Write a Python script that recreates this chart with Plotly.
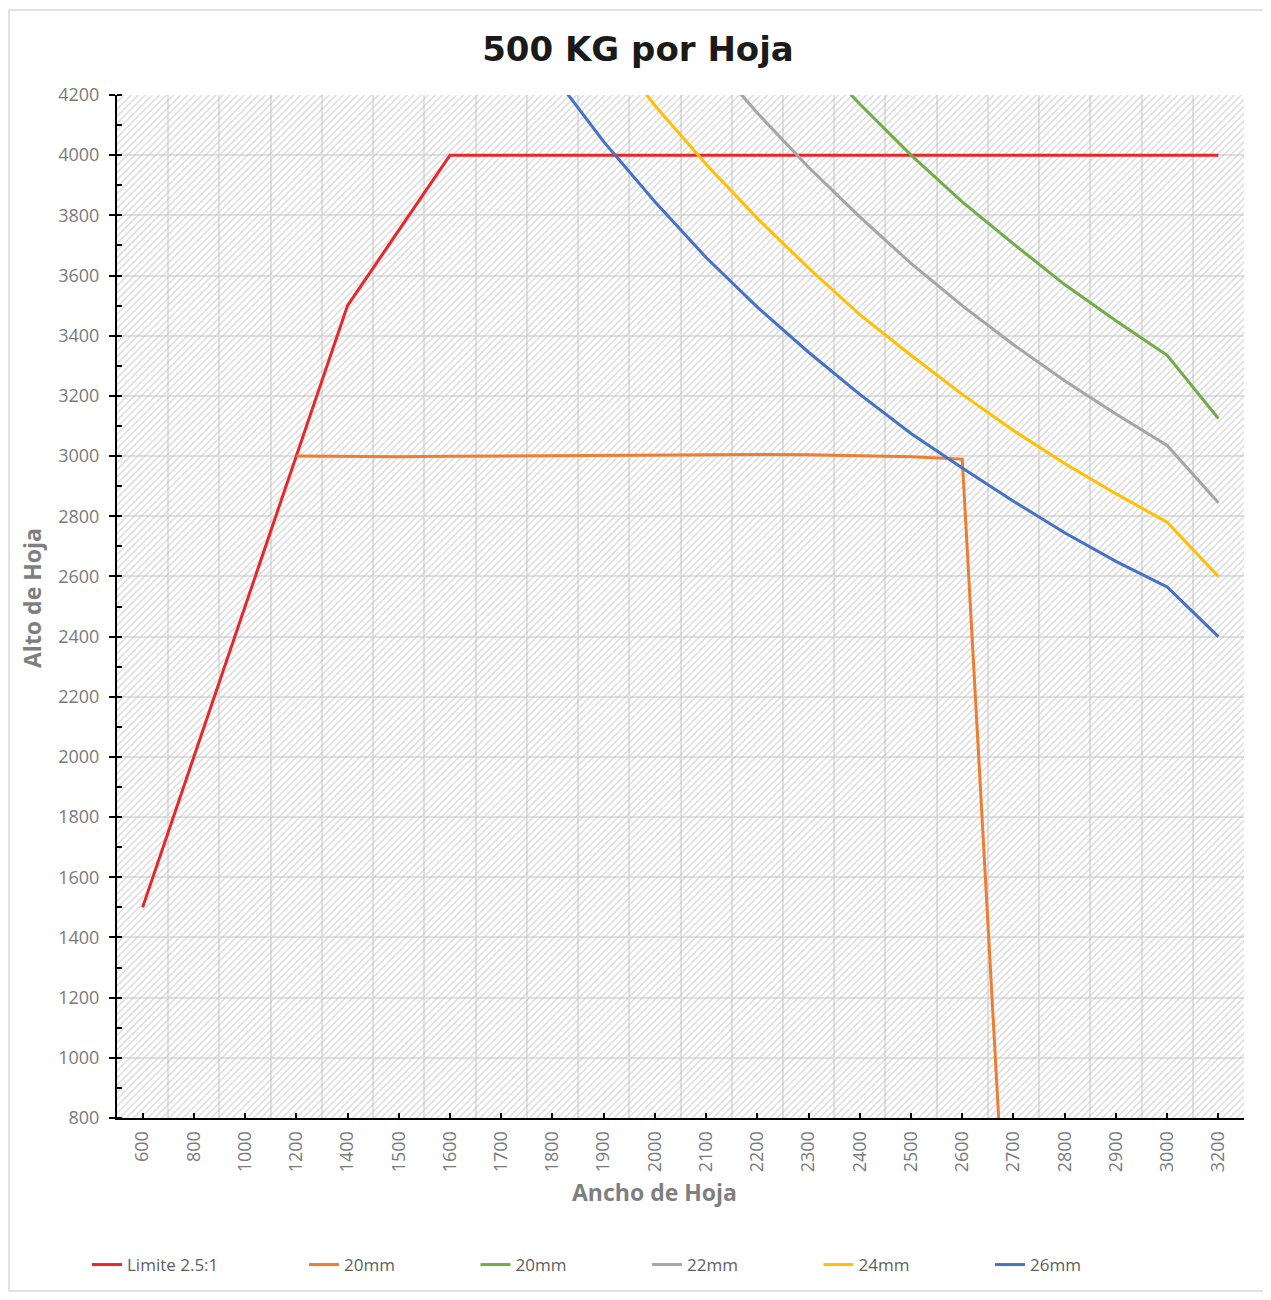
import plotly.graph_objects as go

# ---------------- data ----------------
categories = ["600", "800", "1000", "1200", "1400", "1500", "1600", "1700", "1800", "1900",
              "2000", "2100", "2200", "2300", "2400", "2500", "2600", "2700", "2800", "2900",
              "3000", "3200"]

limite_cats = categories
limite_vals = [1500, 2000, 2500, 3000, 3500, 3750, 4000, 4000, 4000, 4000,
               4000, 4000, 4000, 4000, 4000, 4000, 4000, 4000, 4000, 4000,
               4000, 4000]

orange_cats = ["1200", "1400", "1500", "1600", "1700", "1800", "1900", "2000", "2100",
               "2200", "2300", "2400", "2500", "2600", "2700"]
orange_vals = [3000, 2998, 2998, 2999, 3000, 3002, 3003, 3005, 3005,
               3005, 3004, 3002, 2998, 2990, -90]

green_cats = ["2300", "2400", "2500", "2600", "2700", "2800", "2900", "3000", "3200"]
green_vals = [4350, 4170, 4000, 3845, 3705, 3570, 3450, 3335, 3125]

gray_cats = ["2100", "2200", "2300", "2400", "2500", "2600", "2700", "2800", "2900", "3000", "3200"]
gray_vals = [4335, 4140, 3960, 3795, 3640, 3500, 3370, 3250, 3140, 3035, 2845]

yellow_cats = ["1900", "2000", "2100", "2200", "2300", "2400", "2500", "2600", "2700",
               "2800", "2900", "3000", "3200"]
yellow_vals = [4385, 4165, 3970, 3790, 3625, 3470, 3335, 3205, 3085, 2975, 2875, 2780, 2600]

blue_cats = ["1800", "1900", "2000", "2100", "2200", "2300", "2400", "2500", "2600",
             "2700", "2800", "2900", "3000", "3200"]
blue_vals = [4270, 4045, 3845, 3660, 3495, 3345, 3205, 3075, 2960, 2850, 2745, 2650, 2565, 2400]

series = [
    ("Limite 2.5:1", limite_cats, limite_vals, "#E8262B", "legend"),
    ("20mm", orange_cats, orange_vals, "#ED7D31", "legend2"),
    ("20mm", green_cats, green_vals, "#70AD47", "legend2"),
    ("22mm", gray_cats, gray_vals, "#A5A5A5", "legend2"),
    ("24mm", yellow_cats, yellow_vals, "#FFC000", "legend2"),
    ("26mm", blue_cats, blue_vals, "#4472C4", "legend2"),
]

Y_MIN, Y_MAX = 800, 4200

# ---------------- figure ----------------
W, H = 1260, 1284
ML, MR, MT, MB = 109, 24, 87, 174

def idx(cats):
    return [categories.index(c) for c in cats]

fig = go.Figure()

# hatched plot background
xl, xr = -0.5, len(categories) - 0.5
fig.add_trace(go.Scatter(
    x=[xl, xr, xr, xl, xl], y=[Y_MIN, Y_MIN, Y_MAX, Y_MAX, Y_MIN],
    mode="lines", line=dict(width=0), fill="toself",
    fillcolor="rgba(255,255,255,0)",
    fillpattern=dict(shape="/", fgcolor="#b8b8b8", bgcolor="rgba(255,255,255,0)",
                     size=5, solidity=0.3),
    hoverinfo="skip", showlegend=False))

for name, cats, vals, color, lg in series:
    fig.add_trace(go.Scatter(
        x=idx(cats), y=vals, mode="lines", name=name, legend=lg,
        line=dict(color=color, width=3)))

tick_font = dict(family="Open Sans", size=18, color="#7a7a7a")
grid_c = "#e2e2e2"
legend_font = dict(family="Open Sans", size=17, color="#606060")

fig.update_layout(
    width=W, height=H,
    margin=dict(l=ML, r=MR, t=MT, b=MB),
    paper_bgcolor="white", plot_bgcolor="white",
    title=dict(text="<b>500 KG por Hoja</b>", x=(638 - 8) / W, xref="container", xanchor="center",
               y=1 - 41 / H, yref="container", yanchor="middle",
               font=dict(family="DejaVu Sans", size=34, color="#1a1a1a")),
    showlegend=True,
    legend=dict(orientation="h", xref="container", yref="container",
                x=79 / W, xanchor="left", y=1 - 1257 / H, yanchor="middle",
                font=legend_font, bgcolor="rgba(0,0,0,0)", traceorder="normal"),
    legend2=dict(orientation="h", xref="container", yref="container",
                 x=296 / W, xanchor="left", y=1 - 1257 / H, yanchor="middle",
                 entrywidth=126.5, entrywidthmode="pixels",
                 font=legend_font, bgcolor="rgba(0,0,0,0)", traceorder="normal"),
    xaxis=dict(
        range=[xl, xr], tickmode="array", tickvals=list(range(len(categories))),
        ticktext=categories, tickangle=-90, tickfont=tick_font,
        ticks="inside", ticklen=5, tickwidth=2, tickcolor="black",
        showline=True, linecolor="black", linewidth=2,
        showgrid=False, zeroline=False, ticklabelstandoff=4,
        minor=dict(tick0=0.5, dtick=1, showgrid=True, gridcolor=grid_c, gridwidth=1.5, ticks=""),
    ),
    yaxis=dict(
        range=[Y_MIN, Y_MAX], dtick=200, tick0=800, tickfont=tick_font,
        ticks="outside", ticklen=6, tickwidth=2, tickcolor="black",
        showline=True, linecolor="black", linewidth=2, ticklabelstandoff=6,
        showgrid=True, gridcolor=grid_c, gridwidth=1.5, zeroline=False,
        minor=dict(dtick=100, tick0=800, ticks="inside", ticklen=5, tickwidth=2, tickcolor="black",
                   showgrid=False),
    ),
)

pw = W - ML - MR
ph = H - MT - MB

# axis titles
fig.add_annotation(text="<b>Ancho de Hoja</b>", xref="paper", yref="paper",
                   x=(654 - 117) / pw, y=1 - (1192 - 95) / ph, showarrow=False,
                   xanchor="center", yanchor="middle",
                   font=dict(family="Open Sans", size=23, color="#7f7f7f"))
fig.add_annotation(text="<b>Alto de Hoja</b>", xref="paper", yref="paper",
                   x=(32 - 117) / pw, y=1 - (598 - 95) / ph, showarrow=False, textangle=-90,
                   xanchor="center", yanchor="middle",
                   font=dict(family="Open Sans", size=23, color="#7f7f7f"))

# chart border
fig.add_shape(type="rect", xref="paper", yref="paper",
              x0=-(ML - 1) / pw, x1=1 + (MR - 1) / pw,
              y0=-(MB - 1) / ph, y1=1 + (MT - 2) / ph,
              line=dict(color="#d9d9d9", width=1.5), fillcolor="rgba(0,0,0,0)", layer="below")

fig.write_html("out.html")
